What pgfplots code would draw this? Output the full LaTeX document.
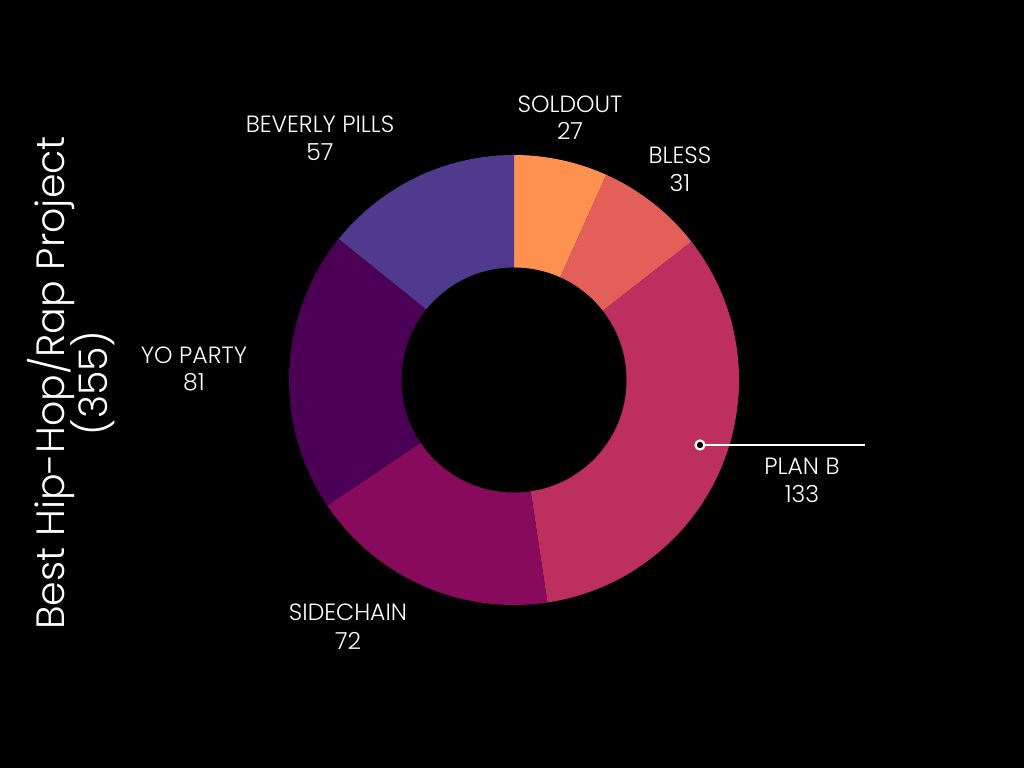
\documentclass[border=0pt]{standalone}
\usepackage{pgfplots}
\pgfplotsset{compat=1.18}
\usepackage{fontspec}
\setmainfont{Poppins Light}
\definecolor{cSold}{HTML}{FF9150}
\definecolor{cBless}{HTML}{E35F5A}
\definecolor{cPlan}{HTML}{BC2F5F}
\definecolor{cSide}{HTML}{870A5C}
\definecolor{cYo}{HTML}{4B0055}
\definecolor{cBev}{HTML}{4F3A8D}
% slice: start (cumulative), value, colour ; total 401
\newcommand\slice[3]{%
  \pgfmathsetmacro\aA{90-(#1)/401*360}%
  \pgfmathsetmacro\aB{90-((#1)+(#2))/401*360}%
  \edef\tmp{\noexpand\fill[#3] (axis cs:514,388) -- ++(\aA:225pt) arc[start angle=\aA,end angle=\aB,radius=225pt] -- cycle;}%
  \tmp}
\begin{document}
\begin{tikzpicture}
\begin{axis}[
  x=1pt, y=1pt, xmin=0, xmax=1024, ymin=0, ymax=768,
  scale only axis, hide axis, clip=false,
]
\fill[black] (axis cs:0,0) rectangle (axis cs:1024,768);
\slice{0}{27}{cSold}
\slice{27}{31}{cBless}
\slice{58}{133}{cPlan}
\slice{191}{72}{cSide}
\slice{263}{81}{cYo}
\slice{344}{57}{cBev}
\fill[black] (axis cs:514,388) circle[radius=112.5pt];
% leader for PLAN B
\draw[white, line width=2.8pt] (axis cs:705,323) -- (axis cs:865,323);
\draw[white, fill=black, line width=2.2pt] (axis cs:700,323) circle[radius=4.5pt];
% labels
\tikzset{lab/.style={white, anchor=base, font=\fontsize{23.5}{28}\selectfont}}
\node[lab] at (axis cs:570,655) {SOLDOUT};
\node[lab] at (axis cs:570,628) {27};
\node[lab] at (axis cs:680,604) {BLESS};
\node[lab] at (axis cs:680,576) {31};
\node[lab] at (axis cs:320,635) {BEVERLY PILLS};
\node[lab] at (axis cs:320,607) {57};
\node[lab] at (axis cs:194,404) {YO PARTY};
\node[lab] at (axis cs:194,377) {81};
\node[lab] at (axis cs:348,147) {SIDECHAIN};
\node[lab] at (axis cs:348,119) {72};
\node[lab] at (axis cs:802,293) {PLAN B};
\node[lab] at (axis cs:802,265) {133};
% title
\node[white, rotate=90, anchor=base, font=\fontsize{39.5}{46}\selectfont] at (axis cs:64,385) {Best Hip-Hop/Rap Project};
\node[white, rotate=90, anchor=base, font=\fontsize{39.5}{46}\selectfont] at (axis cs:107,385) {(355)};
\end{axis}
\end{tikzpicture}
\end{document}
